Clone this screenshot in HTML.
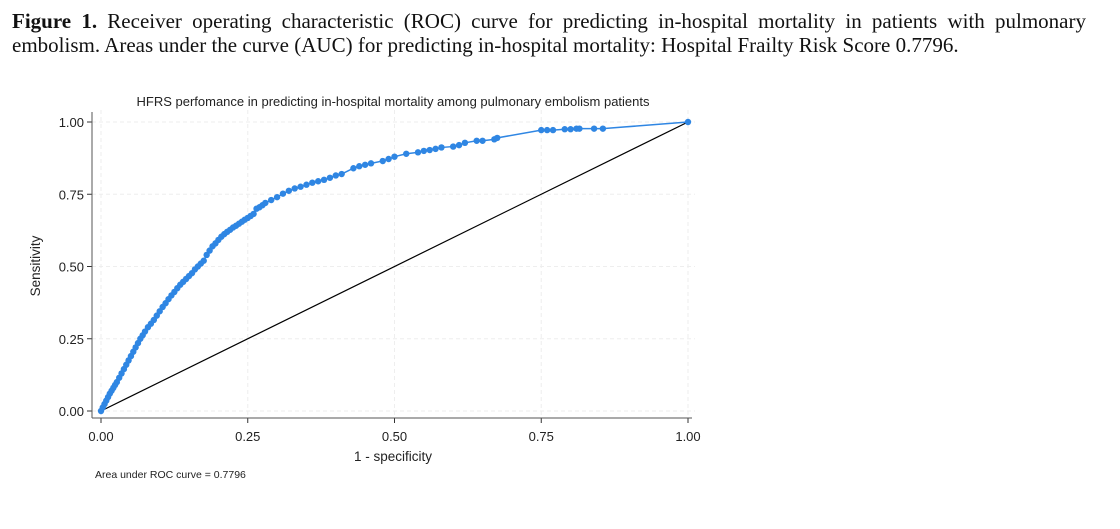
<!DOCTYPE html>
<html><head><meta charset="utf-8"><style>
body{margin:0;background:#fff;width:1120px;height:529px;overflow:hidden;font-family:"Liberation Sans",sans-serif}
#cap{position:absolute;left:12px;top:9px;width:1074px;font-family:"Liberation Serif",serif;font-size:21px;line-height:24px;color:#111;text-align:justify;text-align-last:left}
svg{position:absolute;left:0;top:0}
</style></head><body>
<div id="cap"><b>Figure 1.</b> Receiver operating characteristic (ROC) curve for predicting in-hospital mortality in patients with pulmonary embolism. Areas under the curve (AUC) for predicting in-hospital mortality: Hospital Frailty Risk Score 0.7796.</div>
<svg id="chart" width="1120" height="529"></svg>
<script>
const fpr=[0,0.003,0.006,0.009,0.012,0.015,0.018,0.021,0.024,0.027,0.031,0.035,0.039,0.043,0.047,0.051,0.055,0.059,0.063,0.067,0.071,0.075,0.08,0.085,0.09,0.095,0.1,0.105,0.11,0.115,0.12,0.125,0.13,0.135,0.14,0.145,0.15,0.155,0.16,0.165,0.17,0.175,0.18,0.185,0.19,0.195,0.2,0.205,0.21,0.215,0.22,0.225,0.23,0.235,0.24,0.245,0.25,0.255,0.26,0.265,0.27,0.275,0.28,0.29,0.3,0.31,0.32,0.33,0.34,0.35,0.36,0.37,0.38,0.39,0.4,0.41,0.43,0.44,0.45,0.46,0.48,0.49,0.5,0.52,0.54,0.55,0.56,0.57,0.58,0.6,0.61,0.62,0.64,0.65,0.67,0.675,0.75,0.76,0.77,0.79,0.8,0.81,0.815,0.84,0.855,1];
const tpr=[0,0.012,0.024,0.036,0.048,0.06,0.07,0.08,0.09,0.1,0.115,0.13,0.145,0.16,0.175,0.19,0.205,0.22,0.235,0.25,0.262,0.275,0.29,0.302,0.315,0.33,0.345,0.36,0.373,0.387,0.4,0.412,0.425,0.437,0.447,0.457,0.467,0.477,0.49,0.5,0.51,0.52,0.54,0.555,0.57,0.58,0.592,0.603,0.612,0.62,0.627,0.635,0.641,0.648,0.655,0.662,0.668,0.675,0.682,0.7,0.705,0.712,0.72,0.73,0.74,0.752,0.762,0.77,0.776,0.783,0.79,0.795,0.8,0.807,0.815,0.82,0.84,0.847,0.852,0.857,0.865,0.872,0.88,0.89,0.895,0.9,0.903,0.907,0.912,0.915,0.92,0.928,0.935,0.935,0.94,0.945,0.972,0.972,0.972,0.975,0.975,0.977,0.977,0.977,0.977,1];
const ticks=[0,0.25,0.5,0.75,1];
const tickLabels=["0.00","0.25","0.50","0.75","1.00"];
const X=v=>101+v*587, Y=v=>411-v*289;
const svg=document.getElementById('chart');const NS='http://www.w3.org/2000/svg';
function mk(t,a,txt){const e=document.createElementNS(NS,t);for(const k in a)e.setAttribute(k,a[k]);if(txt!==undefined)e.textContent=txt;svg.appendChild(e);return e;}
ticks.forEach((t,i)=>{
 const g=mk('line',{x1:X(t),x2:X(t),y1:110,y2:415,stroke:'#eee','stroke-dasharray':'4,3'});
 
 
 const h=mk('line',{x1:92,x2:695,y1:Y(t),y2:Y(t),stroke:'#eee','stroke-dasharray':'4,3'});
 
 
 const tx=mk('line',{x1:X(t),x2:X(t),y1:418,y2:423,stroke:'#333'});
 
 
 const lx=mk('text',{x:X(t),y:441,'font-size':13,'text-anchor':'middle',fill:'#222'},tickLabels[i]);
 
 
 const ty=mk('line',{x1:87,x2:92,y1:Y(t),y2:Y(t),stroke:'#333'});
 
 
 const ly=mk('text',{x:84,y:Y(t)+5,'font-size':13,'text-anchor':'end',fill:'#222'},tickLabels[i]);
 
 
});
const ax=mk('line',{x1:92,x2:92,y1:112,y2:418,stroke:'#555'});
const ax2=mk('line',{x1:92,x2:692,y1:418,y2:418,stroke:'#555'});
const ref=mk('line',{x1:X(0),y1:Y(0),x2:X(1),y2:Y(1),stroke:'#000','stroke-width':1.2});
const pl=mk('polyline',{points:fpr.map((f,i)=>X(f)+','+Y(tpr[i])).join(' '),fill:'none',stroke:'#2f86e3','stroke-width':1.5});


fpr.forEach((f,i)=>{const c=mk('circle',{cx:X(f),cy:Y(tpr[i]),r:3.2,fill:'#2f86e3'});
 
 });
const t=mk('text',{x:393,y:106,'font-size':13,'text-anchor':'middle',fill:'#222'},'HFRS perfomance in predicting in-hospital mortality among pulmonary embolism patients');
const xt=mk('text',{x:393,y:461,'font-size':13.5,'text-anchor':'middle',fill:'#222'},'1 - specificity');
const yt=mk('text',{x:40,y:266,'font-size':13.5,'text-anchor':'middle',fill:'#222',transform:'rotate(-90 40 266)'},'Sensitivity');
const au=mk('text',{x:95,y:478,'font-size':10.5,fill:'#222'},'Area under ROC curve = 0.7796');
</script>
</body></html>
